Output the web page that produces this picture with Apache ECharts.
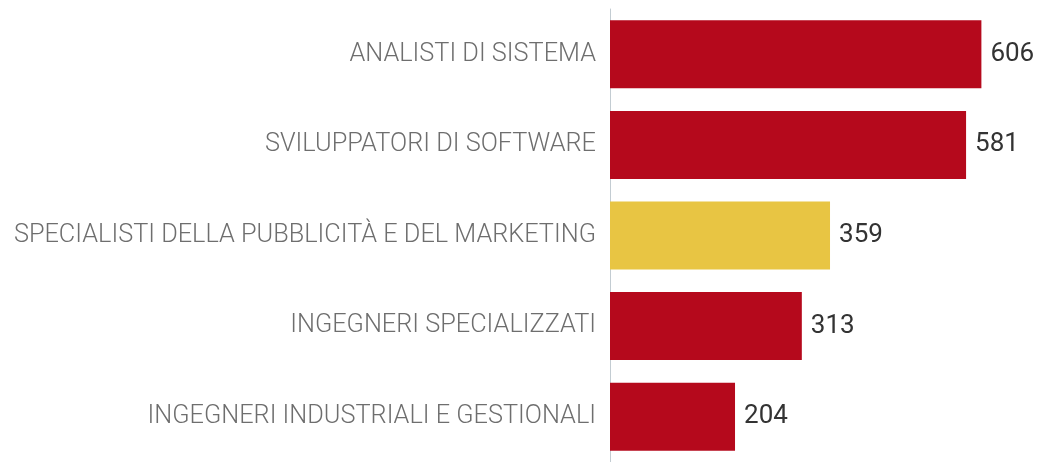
<!DOCTYPE html>
<html>
<head>
<meta charset="utf-8">
<script src="https://cdn.jsdelivr.net/npm/echarts@6/dist/echarts.min.js"></script>
<style>
  html, body { margin: 0; padding: 0; background: #fff; }
  #chart { width: 1039px; height: 462px; }
</style>
</head>
<body>
<div id="chart"></div>
<script>
const categories = [
  "ANALISTI DI SISTEMA",
  "SVILUPPATORI DI SOFTWARE",
  "SPECIALISTI DELLA PUBBLICITÀ E DEL MARKETING",
  "INGEGNERI SPECIALIZZATI",
  "INGEGNERI INDUSTRIALI E GESTIONALI",
];
const values = [606, 581, 359, 313, 204];
const highlighted = [false, false, true, false, false];

const RED = "#b5091c";
const YELLOW = "#e8c543";

const chart = echarts.init(document.getElementById("chart"));

chart.setOption({
  animation: false,
  grid: { left: 610, top: 9, width: 434, height: 453 },
  xAxis: {
    type: "value",
    min: 0,
    max: 700,
    show: false,
  },
  yAxis: {
    type: "category",
    data: categories,
    inverse: true,
    axisLine: { show: true, lineStyle: { color: "#c3ccd2", width: 1 } },
    axisTick: { show: false },
    axisLabel: {
      margin: 14,
      padding: [5, 0, 0, 0],
      color: "#6e6e6e",
      fontSize: 25.3,
      fontFamily: "Roboto, sans-serif",
      fontWeight: 300,
    },
  },
  series: [
    {
      type: "bar",
      barWidth: 68,
      data: values.map((v, i) => ({
        value: v,
        itemStyle: { color: highlighted[i] ? YELLOW : RED },
      })),
      label: {
        show: true,
        position: "right",
        distance: 9,
        color: "#333",
        fontSize: 26,
        fontFamily: "Roboto, sans-serif",
      },
    },
  ],
});
</script>
</body>
</html>
